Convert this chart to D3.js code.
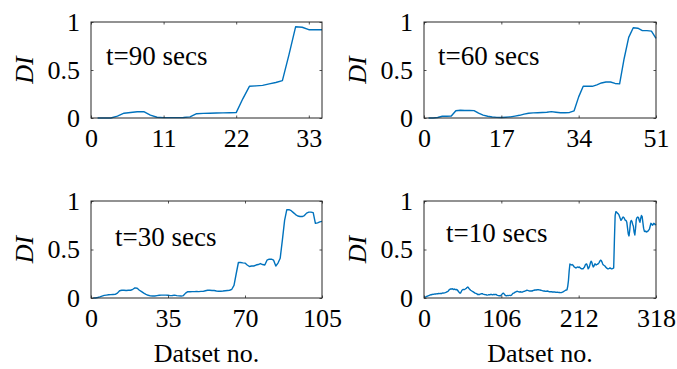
<!DOCTYPE html>
<html><head><meta charset="utf-8">
<script src="https://cdn.jsdelivr.net/npm/d3@7"></script>
<style>body{margin:0;background:#fff}svg{display:block}</style>
</head><body>
<script>
// ---- data ----
const panelTitles = ["t=90 secs", "t=60 secs", "t=30 secs", "t=10 secs"];
const xMax = [35, 51, 105, 318];
const xTicks1 = [0, 11, 22, 33];
const xTicks2 = [0, 17, 34, 51];
const xTicks3 = [0, 35, 70, 105];
const xTicks4 = [0, 106, 212, 318];
const yTicks = [0, 0.5, 1];
const yTickLabels = ["0", "0.5", "1"];
const yLabel = "DI";
const xLabel = "Datset no.";

const di90 = [0,0,0,0.02,0.05,0.058,0.065,0.066,0.03,0.008,0.004,0.004,0.004,0.005,0.012,0.045,0.048,0.05,0.052,0.053,0.054,0.056,0.2,0.33,0.335,0.34,0.355,0.37,0.39,0.66,0.95,0.945,0.92,0.92,0.92];

const di60 = [0,0,0.005,0.018,0.018,0.02,0.075,0.08,0.078,0.078,0.077,0.05,0.03,0.018,0.01,0.006,0.005,0.008,0.012,0.02,0.028,0.04,0.05,0.053,0.055,0.057,0.06,0.066,0.06,0.055,0.055,0.058,0.075,0.22,0.33,0.33,0.33,0.345,0.365,0.375,0.375,0.36,0.355,0.62,0.84,0.94,0.935,0.91,0.91,0.905,0.83];

const di30 = [0,0,0.005,0.012,0.02,0.027,0.03,0.033,0.035,0.036,0.037,0.05,0.075,0.08,0.08,0.078,0.08,0.08,0.09,0.105,0.1,0.08,0.065,0.05,0.038,0.028,0.022,0.02,0.02,0.024,0.028,0.03,0.03,0.03,0.028,0.025,0.026,0.03,0.025,0.022,0.02,0.025,0.05,0.065,0.065,0.066,0.066,0.067,0.066,0.068,0.068,0.075,0.08,0.08,0.078,0.077,0.072,0.07,0.07,0.072,0.075,0.078,0.08,0.09,0.13,0.25,0.366,0.366,0.362,0.36,0.34,0.325,0.33,0.33,0.34,0.345,0.355,0.345,0.34,0.39,0.4,0.4,0.39,0.33,0.36,0.41,0.6,0.8,0.91,0.91,0.9,0.88,0.86,0.845,0.84,0.84,0.85,0.875,0.885,0.885,0.88,0.77,0.775,0.785,0.79];

const di10 = [0.005,0.01,0.014,0.018,0.02,0.024,0.026,0.03,0.033,0.034,
0.036,0.038,0.037,0.04,0.042,0.041,0.043,0.045,0.044,0.046,0.045,0.047,0.048,0.046,0.05,0.052,0.05,0.053,0.055,0.058,
0.062,0.065,0.07,0.08,0.088,0.09,0.095,0.092,0.096,0.09,0.088,0.092,0.086,0.085,0.088,
0.08,0.07,0.06,0.052,0.05,0.065,0.08,0.085,0.088,0.086,0.09,0.095,0.1,0.108,0.113,
0.105,0.095,0.086,0.08,0.075,0.07,0.065,0.06,0.055,0.05,0.048,0.045,0.04,0.034,0.038,0.036,0.04,0.042,0.044,0.044,
0.04,0.038,0.036,0.035,0.033,0.031,0.03,0.032,0.035,0.033,0.036,0.038,0.035,0.032,0.036,0.037,0.034,0.037,0.036,0.03,
0.027,0.025,0.023,0.024,0.023,0.03,0.04,0.048,0.05,0.04,0.03,0.025,0.023,0.024,0.026,0.025,0.027,0.027,0.026,0.03,
0.04,0.048,0.05,0.055,0.06,0.064,0.068,0.069,0.066,0.063,0.062,0.064,0.062,0.06,0.062,0.065,0.068,0.07,0.074,0.077,
0.08,0.078,0.076,0.074,0.072,0.072,0.074,0.072,0.075,0.078,0.08,0.082,0.084,0.083,0.085,0.086,0.085,0.084,0.082,0.08,
0.078,0.076,0.074,0.072,0.072,0.07,0.068,0.07,0.072,0.07,0.066,0.065,0.064,0.066,0.064,0.062,0.063,0.062,0.062,0.06,
0.06,0.058,0.06,0.058,0.057,0.056,0.055,0.055,0.058,0.06,0.065,0.07,0.075,0.08,0.082,0.085,0.12,
0.18,0.28,0.35,0.345,0.34,0.345,0.34,0.33,0.32,0.315,0.31,0.312,0.318,0.32,0.315,0.32,0.31,0.305,
0.3,0.302,0.3,0.31,0.32,0.34,0.35,0.35,0.33,0.3,0.31,0.33,0.36,0.38,0.37,0.34,0.32,0.33,0.35,0.35,
0.34,0.345,0.35,0.355,0.365,0.38,0.39,0.385,0.37,0.35,0.34,0.335,0.33,0.32,0.31,0.305,0.3,0.302,0.305,0.31,0.305,0.3,0.302,0.305,0.31,0.6,
0.85,0.89,0.885,0.875,0.87,0.86,0.84,0.82,0.8,0.81,0.825,0.835,0.83,0.815,0.8,0.8,0.78,0.72,0.66,
0.64,0.7,0.78,0.8,0.79,0.76,0.74,0.68,0.65,0.72,0.81,0.83,0.835,0.83,0.8,0.78,0.82,0.85,0.84,0.78,
0.72,0.69,0.685,0.69,0.68,0.685,0.69,0.7,0.71,0.74,0.77,0.765,0.75,0.755,0.77,0.765,0.755,0.76];

const series = [di90, di60, di30, di10];
const xTickSets = [xTicks1, xTicks2, xTicks3, xTicks4];

// ---- layout ----
const W = 677, H = 369;
const FONT = "'Liberation Serif','Times New Roman',serif";
const FS = 26;
const boxes = [
  {l: 91, r: 322, t: 22, b: 118},
  {l: 424, r: 656, t: 22, b: 118},
  {l: 91, r: 322, t: 201, b: 298},
  {l: 424, r: 656, t: 201, b: 298}
];
const titlePos = [[106, 65], [438, 65], [115, 246], [446, 242]];
const axisColor = "#262626";
const lineColor = "#0072BD";

const svg = d3.select("body").append("svg").attr("width", W).attr("height", H);

boxes.forEach((bx, i) => {
  const x = d3.scaleLinear().domain([0, xMax[i]]).range([bx.l, bx.r]);
  const y = d3.scaleLinear().domain([0, 1]).range([bx.b, bx.t]);
  const g = svg.append("g");
  const tl = 2.5;

  const line = d3.line().x((d, k) => x(k + 1)).y(d => y(d));
  g.append("path").datum(series[i]).attr("d", line)
    .attr("fill", "none").attr("stroke", lineColor).attr("stroke-width", 1.4)
    .attr("stroke-linejoin", "round");

  const xa = d3.axisBottom(x).tickValues(xTickSets[i]).tickSizeInner(-tl).tickSizeOuter(0).tickPadding(10).tickFormat(d3.format("d"));
  const gx = g.append("g").attr("transform", `translate(0,${bx.b})`).call(xa);
  const xt = d3.axisTop(x).tickValues(xTickSets[i]).tickSizeInner(-tl).tickSizeOuter(0).tickFormat("");
  const gxt = g.append("g").attr("transform", `translate(0,${bx.t})`).call(xt);
  const ya = d3.axisLeft(y).tickValues(yTicks).tickSizeInner(-tl).tickSizeOuter(0).tickPadding(11).tickFormat((d, k) => yTickLabels[k]);
  const gy = g.append("g").attr("transform", `translate(${bx.l},0)`).call(ya);
  const yr = d3.axisRight(y).tickValues(yTicks).tickSizeInner(-tl).tickSizeOuter(0).tickFormat("");
  const gyr = g.append("g").attr("transform", `translate(${bx.r},0)`).call(yr);

  [gx, gxt, gy, gyr].forEach(a => {
    a.select(".domain").remove();
    a.selectAll("line").attr("stroke", axisColor).attr("stroke-width", 0.8);
    a.selectAll("text").attr("font-family", FONT).attr("font-size", FS).attr("fill", "#000");
  });
  gx.selectAll("text").attr("dy", "0.71em").attr("y", 11);

  g.append("rect").attr("x", bx.l).attr("y", bx.t).attr("width", bx.r - bx.l).attr("height", bx.b - bx.t)
    .attr("fill", "none").attr("stroke", axisColor).attr("stroke-width", 1);

  g.append("text").attr("transform", `translate(${bx.l - 67},${(bx.t + bx.b) / 2}) rotate(-90)`)
    .attr("text-anchor", "middle").attr("dy", "0.35em")
    .attr("font-family", FONT).attr("font-size", FS).attr("font-style", "italic").text(yLabel);

  g.append("text").attr("x", titlePos[i][0]).attr("y", titlePos[i][1])
    .attr("font-family", FONT).attr("font-size", 27).text(panelTitles[i]);

  if (i >= 2) {
    g.append("text").attr("x", (bx.l + bx.r) / 2).attr("y", 362).attr("text-anchor", "middle")
      .attr("font-family", FONT).attr("font-size", FS).text(xLabel);
  }
});
</script>
</body></html>
